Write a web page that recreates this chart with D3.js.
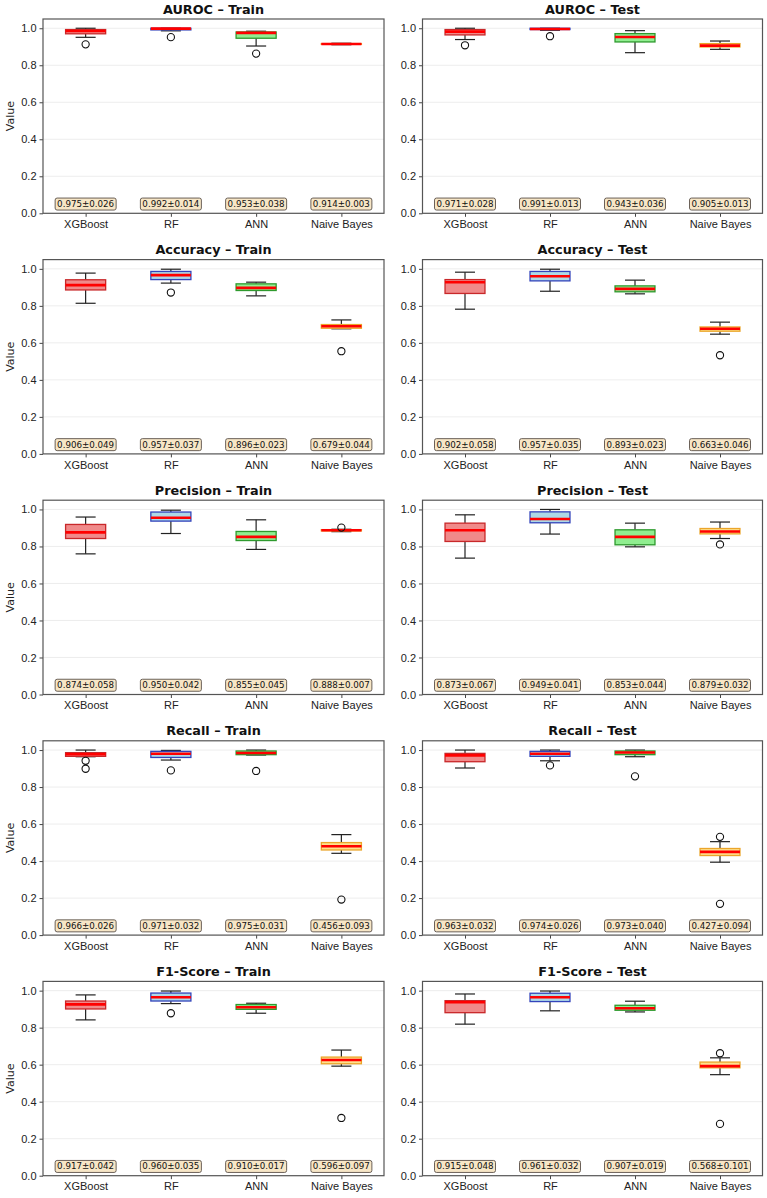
<!DOCTYPE html>
<html>
<head>
<meta charset="utf-8">
<script src="https://cdn.jsdelivr.net/npm/d3@7"></script>
<style>
  body { margin: 0; background: #fff; }
  svg { display: block; font-family: "DejaVu Sans", sans-serif; }
  .tick text { fill: #222; }
</style>
</head>
<body>
<svg id="chart" width="767" height="1198"></svg>
<script>
// categories
const models = ["XGBoost", "RF", "ANN", "Naive Bayes"];
const metrics = ["AUROC", "Accuracy", "Precision", "Recall", "F1-Score"];
const splits = ["Train", "Test"];
const yTicks = [0, 0.2, 0.4, 0.6, 0.8, 1.0];

// box stats per model: [whiskerLow, q1, median, q3, whiskerHigh]
const aurocTrainBoxes = [[0.951, 0.970, 0.985, 0.993, 1.0], [0.986, 0.991, 0.998, 1.0, 1.0], [0.904, 0.946, 0.975, 0.980, 0.984], [0.911, 0.913, 0.915, 0.917, 0.919]];
const aurocTrainOutliers = [[0.913], [0.952], [0.863], []];
const aurocTrainMean = [[0.975, 0.026], [0.992, 0.014], [0.953, 0.038], [0.914, 0.003]];

const aurocTestBoxes = [[0.939, 0.964, 0.982, 0.993, 1.0], [0.989, 0.993, 0.996, 1.0, 1.0], [0.868, 0.926, 0.953, 0.971, 0.987], [0.886, 0.899, 0.906, 0.917, 0.931]];
const aurocTestOutliers = [[0.908], [0.957], [], []];
const aurocTestMean = [[0.971, 0.028], [0.991, 0.013], [0.943, 0.036], [0.905, 0.013]];

const accuracyTrainBoxes = [[0.814, 0.886, 0.912, 0.941, 0.977], [0.923, 0.942, 0.966, 0.986, 0.998], [0.854, 0.883, 0.897, 0.919, 0.928], [0.676, 0.679, 0.690, 0.699, 0.724]];
const accuracyTrainOutliers = [[], [0.872], [], [0.555]];
const accuracyTrainMean = [[0.906, 0.049], [0.957, 0.037], [0.896, 0.023], [0.679, 0.044]];

const accuracyTestBoxes = [[0.782, 0.867, 0.928, 0.942, 0.982], [0.879, 0.935, 0.960, 0.986, 0.998], [0.865, 0.876, 0.892, 0.908, 0.939], [0.647, 0.663, 0.676, 0.686, 0.712]];
const accuracyTestOutliers = [[], [], [], [0.533]];
const accuracyTestMean = [[0.902, 0.058], [0.957, 0.035], [0.893, 0.023], [0.663, 0.046]];

const precisionTrainBoxes = [[0.760, 0.843, 0.876, 0.919, 0.959], [0.870, 0.937, 0.955, 0.986, 0.996], [0.784, 0.832, 0.852, 0.881, 0.944], [0.880, 0.884, 0.888, 0.891, 0.893]];
const precisionTrainOutliers = [[], [], [], [0.902]];
const precisionTrainMean = [[0.874, 0.058], [0.950, 0.042], [0.855, 0.045], [0.888, 0.007]];

const precisionTestBoxes = [[0.737, 0.827, 0.888, 0.926, 0.971], [0.867, 0.928, 0.948, 0.987, 1.0], [0.798, 0.809, 0.852, 0.890, 0.926], [0.843, 0.868, 0.881, 0.897, 0.932]];
const precisionTestOutliers = [[], [], [], [0.811]];
const precisionTestMean = [[0.873, 0.067], [0.949, 0.041], [0.853, 0.044], [0.879, 0.032]];

const recallTrainBoxes = [[0.964, 0.966, 0.977, 0.986, 1.0], [0.946, 0.960, 0.980, 0.993, 0.998], [0.973, 0.975, 0.984, 0.995, 1.0], [0.442, 0.460, 0.480, 0.500, 0.543]];
const recallTrainOutliers = [[0.942, 0.899], [0.890], [0.887], [0.192]];
const recallTrainMean = [[0.966, 0.026], [0.971, 0.032], [0.975, 0.031], [0.456, 0.093]];

const recallTestBoxes = [[0.903, 0.937, 0.971, 0.982, 1.0], [0.942, 0.966, 0.980, 0.993, 1.0], [0.964, 0.975, 0.987, 0.995, 1.0], [0.394, 0.430, 0.450, 0.468, 0.505]];
const recallTestOutliers = [[], [0.917], [0.858], [0.531, 0.169]];
const recallTestMean = [[0.963, 0.032], [0.974, 0.026], [0.973, 0.040], [0.427, 0.094]];

const f1TrainBoxes = [[0.842, 0.901, 0.926, 0.944, 0.977], [0.930, 0.944, 0.964, 0.987, 0.998], [0.878, 0.899, 0.910, 0.925, 0.932], [0.592, 0.605, 0.625, 0.641, 0.679]];
const f1TrainOutliers = [[], [0.878], [], [0.312]];
const f1TrainMean = [[0.917, 0.042], [0.960, 0.035], [0.910, 0.017], [0.596, 0.097]];

const f1TestBoxes = [[0.819, 0.881, 0.937, 0.946, 0.982], [0.891, 0.941, 0.964, 0.986, 0.998], [0.885, 0.894, 0.905, 0.921, 0.943], [0.546, 0.583, 0.592, 0.614, 0.637]];
const f1TestOutliers = [[], [], [], [0.662, 0.280]];
const f1TestMean = [[0.915, 0.048], [0.961, 0.032], [0.907, 0.019], [0.568, 0.101]];

const panels = [
  [aurocTrainBoxes, aurocTrainOutliers, aurocTrainMean], [aurocTestBoxes, aurocTestOutliers, aurocTestMean],
  [accuracyTrainBoxes, accuracyTrainOutliers, accuracyTrainMean], [accuracyTestBoxes, accuracyTestOutliers, accuracyTestMean],
  [precisionTrainBoxes, precisionTrainOutliers, precisionTrainMean], [precisionTestBoxes, precisionTestOutliers, precisionTestMean],
  [recallTrainBoxes, recallTrainOutliers, recallTrainMean], [recallTestBoxes, recallTestOutliers, recallTestMean],
  [f1TrainBoxes, f1TrainOutliers, f1TrainMean], [f1TestBoxes, f1TestOutliers, f1TestMean]
];

const fills = ["#F08A8A", "#ADD8E6", "#90EE90", "#FFE08C"];
const edges = ["#C8282A", "#3344BB", "#2E9A2E", "#EBA52A"];

const svg = d3.select("#chart");
const colX = [43, 422.5], colW = [341, 340];
const rowY0 = 19, rowStep = 240.6, plotH = 194.3;
const fmt = d3.format(".3f");

panels.forEach(([boxes, outliers, means], idx) => {
  const r = Math.floor(idx / 2), c = idx % 2;
  const w = colW[c];
  const g = svg.append("g").attr("transform", `translate(${colX[c]},${rowY0 + r * rowStep})`);

  const x = d3.scalePoint().domain(models).range([0, w]).padding(0.5);
  const y = d3.scaleLinear().domain([0, 1.05]).range([plotH, 0]);
  const bw = x.step() * 0.47;

  // grid
  g.append("g").selectAll("line").data(yTicks.slice(1)).join("line")
    .attr("x1", 0).attr("x2", w).attr("y1", d => y(d)).attr("y2", d => y(d))
    .attr("stroke", "#e8e8e8").attr("stroke-width", 0.8);

  // axes
  const ya = g.append("g").call(d3.axisLeft(y).tickValues(yTicks).tickFormat(d3.format(".1f")).tickSize(3.5).tickPadding(3));
  const xa = g.append("g").attr("transform", `translate(0,${plotH})`).call(d3.axisBottom(x).tickSize(3.5).tickPadding(3.5));
  [ya, xa].forEach(a => {
    a.select(".domain").remove();
    a.selectAll(".tick line").attr("stroke", "#444");
    a.selectAll(".tick text").style("font-size", "11px").attr("fill", "#222");
  });

  const box = g.selectAll(".bx").data(boxes).join("g").attr("class", "bx")
    .attr("transform", (d, i) => `translate(${x(models[i])},0)`);

  // whiskers and caps
  box.append("line").attr("y1", d => y(d[0])).attr("y2", d => y(d[1])).attr("stroke", "#222").attr("stroke-width", 1.2);
  box.append("line").attr("y1", d => y(d[3])).attr("y2", d => y(d[4])).attr("stroke", "#222").attr("stroke-width", 1.2);
  box.append("line").attr("x1", -bw / 4).attr("x2", bw / 4).attr("y1", d => y(d[0])).attr("y2", d => y(d[0])).attr("stroke", "#222").attr("stroke-width", 1.2);
  box.append("line").attr("x1", -bw / 4).attr("x2", bw / 4).attr("y1", d => y(d[4])).attr("y2", d => y(d[4])).attr("stroke", "#222").attr("stroke-width", 1.2);

  box.append("rect")
    .attr("x", -bw / 2).attr("width", bw)
    .attr("y", d => y(d[3])).attr("height", d => Math.max(y(d[1]) - y(d[3]), 0.5))
    .attr("fill", (d, i) => fills[i]).attr("stroke", (d, i) => edges[i]).attr("stroke-width", 1.3);

  box.append("line").attr("x1", -bw / 2).attr("x2", bw / 2).attr("y1", d => y(d[2])).attr("y2", d => y(d[2]))
    .attr("stroke", "#FF0000").attr("stroke-width", 2.6);

  // outliers
  box.each(function(d, i) {
    d3.select(this).selectAll("circle").data(outliers[i]).join("circle")
      .attr("cx", 0).attr("cy", v => y(v)).attr("r", 3.6)
      .attr("fill", "none").attr("stroke", "#111").attr("stroke-width", 1.1);
  });

  // mean ± std labels
  const lab = g.selectAll(".lab").data(means).join("g").attr("class", "lab")
    .attr("transform", (d, i) => `translate(${x(models[i])},${y(0.05)})`);
  lab.append("rect").attr("x", -30.5).attr("y", -6).attr("width", 61).attr("height", 12).attr("rx", 2)
    .attr("fill", "#F7E6C6").attr("stroke", "#5a5048").attr("stroke-width", 0.9);
  lab.append("text").attr("text-anchor", "middle").attr("dy", "0.35em")
    .style("font-size", "8.7px").attr("fill", "#111")
    .text(d => `${fmt(d[0])}±${fmt(d[1])}`);

  // frame
  g.append("rect").attr("width", w).attr("height", plotH).attr("fill", "none").attr("stroke", "#555").attr("stroke-width", 1.2);

  g.append("text").attr("x", w / 2).attr("y", -5.5).attr("text-anchor", "middle")
    .style("font-size", "12.8px").style("font-weight", "bold").attr("fill", "#111")
    .text(`${metrics[r]} – ${splits[c]}`);

  if (c === 0) {
    g.append("text").attr("transform", `translate(${-29},${plotH / 2}) rotate(-90)`)
      .attr("text-anchor", "middle").style("font-size", "11px").attr("fill", "#222").text("Value");
  }
});
</script>
</body>
</html>
